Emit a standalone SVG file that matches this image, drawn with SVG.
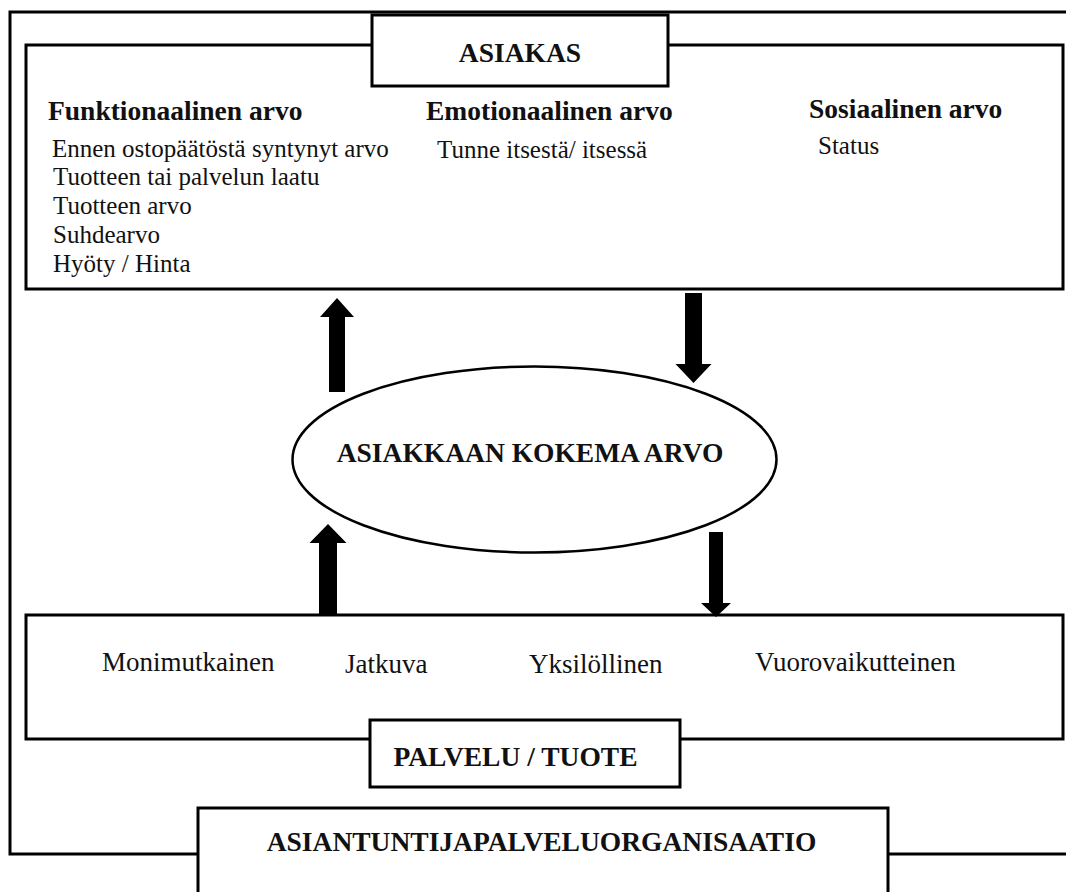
<svg xmlns="http://www.w3.org/2000/svg" width="1066" height="892" viewBox="0 0 1066 892">
<style>
.box{fill:#fff;stroke:#000;stroke-width:3}
.frame{fill:none;stroke:#000;stroke-width:3}
.h{font-family:"Liberation Serif","Times New Roman",serif;font-weight:bold;font-size:27.5px;fill:#111}
.t{font-family:"Liberation Serif","Times New Roman",serif;font-size:25px;fill:#111}
.tb{font-family:"Liberation Serif","Times New Roman",serif;font-size:27px;fill:#111}
.arrow{fill:#000;stroke:none}
</style>
<rect width="1066" height="892" fill="#fff"/>
<g id="organisaatio-frame">
<rect class="frame" x="10" y="12" width="1080" height="842"/>
</g>
<g id="asiakas">
<rect class="box" x="26" y="45" width="1037" height="244"/>
<rect class="box" x="372" y="15" width="296" height="71"/>
<text class="h" x="520" y="62" text-anchor="middle">ASIAKAS</text>
<text class="h" x="48" y="120">Funktionaalinen arvo</text>
<text class="t" x="52" y="157">Ennen ostopäätöstä syntynyt arvo</text>
<text class="t" x="53" y="185">Tuotteen tai palvelun laatu</text>
<text class="t" x="53" y="214">Tuotteen arvo</text>
<text class="t" x="53" y="243">Suhdearvo</text>
<text class="t" x="53" y="272">Hyöty / Hinta</text>
<text class="h" x="426" y="120">Emotionaalinen arvo</text>
<text class="t" x="437" y="158">Tunne itsestä/ itsessä</text>
<text class="h" x="809" y="118">Sosiaalinen arvo</text>
<text class="t" x="818" y="154">Status</text>
</g>
<g id="kokema-arvo">
<ellipse cx="534.5" cy="459.5" rx="242" ry="93" fill="#fff" stroke="#000" stroke-width="2.5"/>
<text class="h" x="530" y="462" text-anchor="middle">ASIAKKAAN KOKEMA ARVO</text>
</g>
<g id="palvelu">
<rect class="box" x="26" y="615" width="1037" height="124"/>
<text class="tb" x="102" y="671">Monimutkainen</text>
<text class="tb" x="345" y="673">Jatkuva</text>
<text class="tb" x="529" y="673">Yksilöllinen</text>
<text class="tb" x="755" y="671">Vuorovaikutteinen</text>
<rect class="box" x="370" y="720" width="310" height="67"/>
<text class="h" x="515.5" y="766" text-anchor="middle">PALVELU / TUOTE</text>
</g>
<g id="organisaatio">
<rect class="box" x="198" y="808" width="690" height="100"/>
<text class="h" x="541.5" y="851" text-anchor="middle">ASIANTUNTIJAPALVELUORGANISAATIO</text>
</g>
<g id="connectors">
<polygon class="arrow" points="329,392 345,392 345,317 354,317 337,298 320,317 329,317"/>
<polygon class="arrow" points="685,293 702,293 702,364 711.5,364 693.5,383 675.5,364 685,364"/>
<polygon class="arrow" points="319,614 337,614 337,543 346.5,543 328,524 309.5,543 319,543"/>
<polygon class="arrow" points="709,532 723,532 723,603 731,603 716,617 701,603 709,603"/>
</g>
</svg>
